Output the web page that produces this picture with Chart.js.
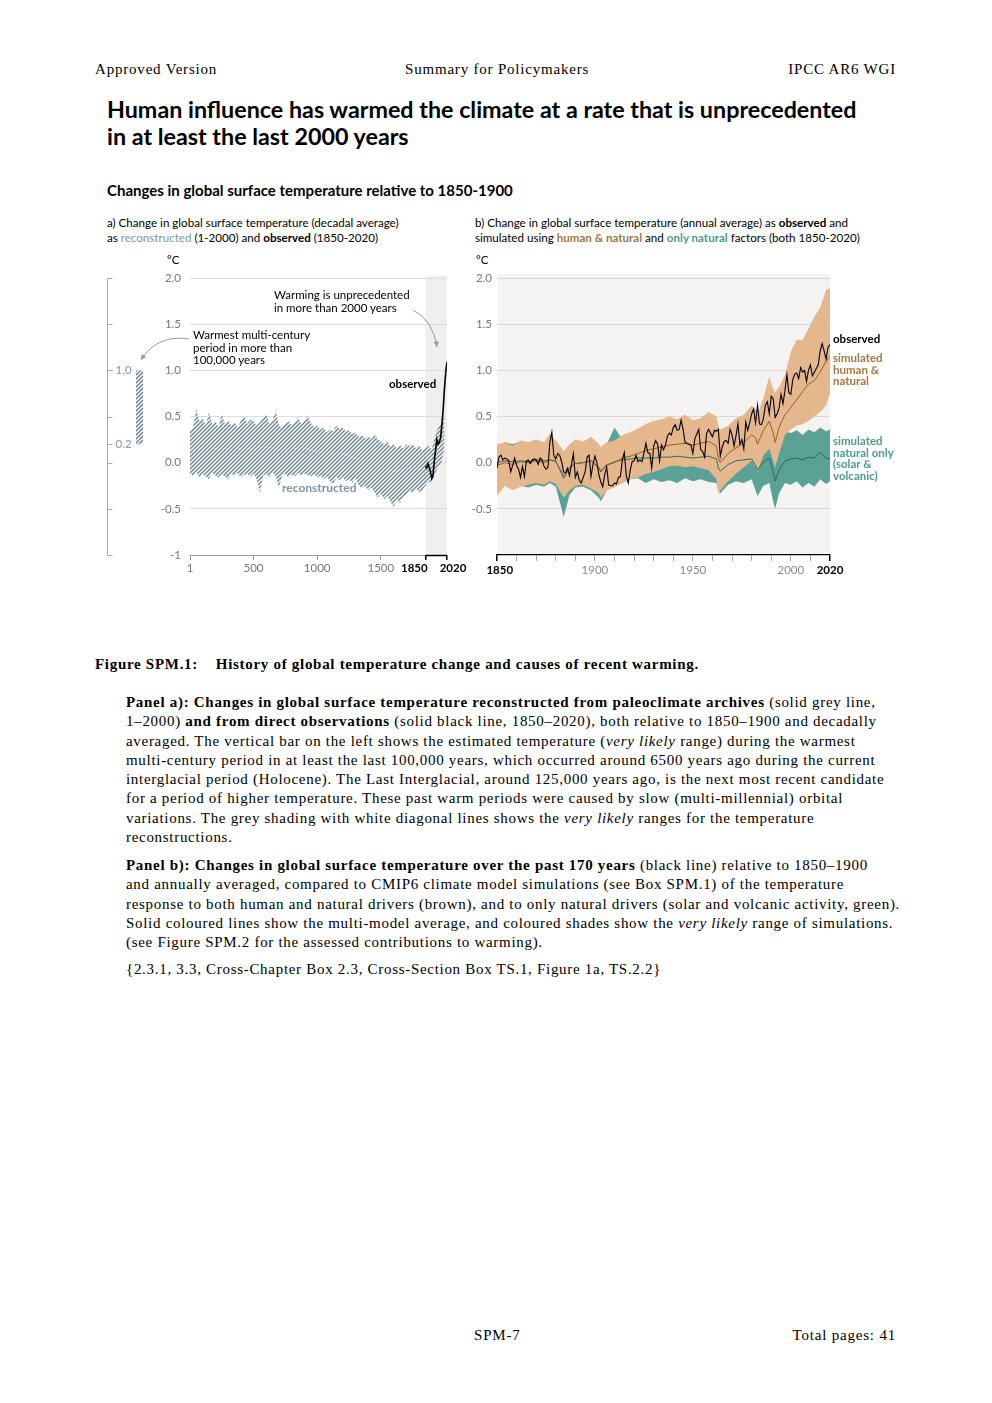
<!DOCTYPE html>
<html>
<head>
<meta charset="utf-8">
<script src="https://cdn.jsdelivr.net/npm/chart.js@4.4.1/dist/chart.umd.min.js"></script>
<style>
  body { margin: 0; background: #fff; }
  #page { position: relative; width: 992px; height: 1403px; overflow: hidden; font-family: "Liberation Serif", serif; color: #000; }
  .abs { position: absolute; white-space: nowrap; }
  .serif { font-family: "Liberation Serif", serif; font-size: 15px; letter-spacing: 0.8px; line-height: 20px; }
  .sans { font-family: Lato, "Open Sans", sans-serif; }
  .small { font-size: 11.6px; line-height: 15px; }
  .cap { font-size: 15px; line-height: 19.3px; letter-spacing: 0.7px; }
  canvas { position: absolute; }
</style>
</head>
<body>
<div id="page">
  <div class="abs serif" style="left:95px;top:59px;">Approved Version</div>
  <div class="abs serif" style="left:405px;top:59px;">Summary for Policymakers</div>
  <div class="abs serif" style="right:96px;top:59px;">IPCC AR6 WGI</div>

  <div class="abs sans" style="left:107px;top:96px;font-size:23.3px;line-height:27px;font-weight:bold;">Human influence has warmed the climate at a rate that is unprecedented<br>in at least the last 2000 years</div>
  <div class="abs sans" style="left:107px;top:180px;font-size:15px;line-height:20px;font-weight:bold;">Changes in global surface temperature relative to 1850-1900</div>

  <div class="abs sans small" style="left:107px;top:215px;">a) Change in global surface temperature (decadal average)<br>as <span style="color:#7f95a2">reconstructed</span> (1-2000) and <b>observed</b> (1850-2020)</div>
  <div class="abs sans small" style="left:475px;top:215px;">b) Change in global surface temperature (annual average) as <b>observed</b> and<br>simulated using <b style="color:#a3773f">human &amp; natural</b> and <b style="color:#4f9a8c">only natural</b> factors (both 1850-2020)</div>

  <canvas id="chartA" width="375" height="335" style="left:95px;top:250px;"></canvas>
  <canvas id="chartB" width="420" height="335" style="left:470px;top:250px;"></canvas>

  <div class="abs sans small" style="left:167px;top:252px;">°C</div>
  <div class="abs sans small" style="left:476px;top:252px;">°C</div>

  <div class="abs sans" style="left:274px;top:288px;font-size:11.5px;line-height:13px;">Warming is unprecedented<br>in more than 2000 years</div>
  <div class="abs sans" style="left:193px;top:329px;font-size:11.5px;line-height:12.5px;">Warmest multi-century<br>period in more than<br>100,000 years</div>
  <div class="abs sans" style="left:389px;top:377px;font-size:11.5px;font-weight:bold;line-height:14px;">observed</div>
  <div class="abs sans" style="left:282px;top:481px;font-size:12px;font-weight:bold;line-height:14px;color:#7f95a2;">reconstructed</div>

  <div class="abs sans" style="left:833px;top:332px;font-size:11.5px;font-weight:bold;line-height:14px;">observed</div>
  <div class="abs sans" style="left:833px;top:352px;font-size:11.5px;font-weight:bold;line-height:11.5px;color:#a3773f;">simulated<br>human &amp;<br>natural</div>
  <div class="abs sans" style="left:833px;top:435px;font-size:11.5px;font-weight:bold;line-height:11.5px;color:#4f9a8c;">simulated<br>natural only<br>(solar &amp;<br>volcanic)</div>

  <div class="abs serif" style="left:95px;top:654px;font-size:15px;letter-spacing:0.7px;"><b>Figure SPM.1:</b>&nbsp;&nbsp;&nbsp;&nbsp;<b>History of global temperature change and causes of recent warming.</b></div>

  <div class="abs cap" style="left:126px;top:693px;"><b>Panel a): Changes in global surface temperature reconstructed from paleoclimate archives</b> (solid grey line,<br>1–2000) <b>and from direct observations</b> (solid black line, 1850–2020), both relative to 1850–1900 and decadally<br>averaged. The vertical bar on the left shows the estimated temperature (<i>very likely</i> range) during the warmest<br>multi-century period in at least the last 100,000 years, which occurred around 6500 years ago during the current<br>interglacial period (Holocene). The Last Interglacial, around 125,000 years ago, is the next most recent candidate<br>for a period of higher temperature. These past warm periods were caused by slow (multi-millennial) orbital<br>variations. The grey shading with white diagonal lines shows the <i>very likely</i> ranges for the temperature<br>reconstructions.</div>

  <div class="abs cap" style="left:126px;top:856px;"><b>Panel b): Changes in global surface temperature over the past 170 years</b> (black line) relative to 1850–1900<br>and annually averaged, compared to CMIP6 climate model simulations (see Box SPM.1) of the temperature<br>response to both human and natural drivers (brown), and to only natural drivers (solar and volcanic activity, green).<br>Solid coloured lines show the multi-model average, and coloured shades show the <i>very likely</i> range of simulations.<br>(see Figure SPM.2 for the assessed contributions to warming).</div>

  <div class="abs cap" style="left:126px;top:960px;">{2.3.1, 3.3, Cross-Chapter Box 2.3, Cross-Section Box TS.1, Figure 1a, TS.2.2}</div>

  <div class="abs serif" style="left:474px;top:1325px;">SPM-7</div>
  <div class="abs serif" style="right:96px;top:1325px;">Total pages: 41</div>
</div>

<script>
// ---------- panel a data ----------
const recYears = [1, 25, 50, 75, 100, 125, 150, 175, 200, 225, 250, 275, 300, 325, 350, 375, 400, 425, 450, 475,
  500, 525, 550, 575, 600, 625, 650, 675, 700, 725, 750, 775, 800, 825, 850, 875, 900, 925, 950, 975,
  1000, 1025, 1050, 1075, 1100, 1125, 1150, 1175, 1200, 1225, 1250, 1275, 1300, 1325, 1350, 1375, 1400, 1425, 1450, 1475,
  1500, 1525, 1550, 1575, 1600, 1625, 1650, 1675, 1700, 1725, 1750, 1775, 1800, 1825, 1850, 1875, 1900, 1925, 1950, 1975, 2000];
const recHigh = [0.35, 0.38, 0.58, 0.45, 0.48, 0.40, 0.55, 0.42, 0.45, 0.38, 0.53, 0.42, 0.46, 0.40, 0.44, 0.38, 0.45, 0.51, 0.42, 0.47,
  0.45, 0.40, 0.44, 0.48, 0.53, 0.42, 0.46, 0.56, 0.40, 0.38, 0.42, 0.45, 0.40, 0.44, 0.49, 0.42, 0.46, 0.51, 0.43, 0.38,
  0.40, 0.36, 0.38, 0.33, 0.36, 0.34, 0.40, 0.37, 0.38, 0.34, 0.35, 0.31, 0.33, 0.28, 0.30, 0.26, 0.29, 0.25, 0.30, 0.26,
  0.23, 0.20, 0.24, 0.17, 0.20, 0.16, 0.19, 0.15, 0.20, 0.18, 0.20, 0.16, 0.19, 0.13, 0.16, 0.18, 0.14, 0.28, 0.38, 0.42, 0.55];
const recLow = [-0.12, -0.14, -0.10, -0.16, -0.12, -0.15, -0.18, -0.11, -0.14, -0.16, -0.12, -0.15, -0.18, -0.12, -0.14, -0.11, -0.16, -0.13, -0.12, -0.15,
  -0.12, -0.18, -0.33, -0.14, -0.12, -0.16, -0.11, -0.15, -0.27, -0.14, -0.12, -0.16, -0.13, -0.15, -0.11, -0.14, -0.12, -0.13, -0.15, -0.12,
  -0.16, -0.14, -0.18, -0.15, -0.20, -0.23, -0.16, -0.19, -0.15, -0.20, -0.18, -0.22, -0.17, -0.24, -0.28, -0.25, -0.30, -0.27, -0.32, -0.38,
  -0.33, -0.40, -0.36, -0.42, -0.48, -0.40, -0.44, -0.37, -0.35, -0.30, -0.33, -0.28, -0.32, -0.30, -0.25, -0.20, -0.22, -0.12, -0.05, 0.00, 0.15];
const recMidYears = [1, 100, 200, 300, 400, 500, 600, 700, 800, 900, 1000, 1100, 1200, 1300, 1400, 1500, 1600, 1700, 1800, 1900, 2000];
const recMid = [0.14, 0.16, 0.15, 0.15, 0.16, 0.15, 0.17, 0.14, 0.15, 0.16, 0.12, 0.09, 0.10, 0.05, 0.02, -0.05, -0.10, -0.06, -0.07, -0.04, 0.35];
const obsDecYears = [1850, 1860, 1870, 1880, 1890, 1900, 1910, 1920, 1930, 1940, 1950, 1960, 1970, 1980, 1990, 2000, 2010, 2020];
const obsDec = [-0.04, -0.06, -0.01, -0.05, -0.10, -0.17, -0.14, 0.02, 0.13, 0.25, 0.20, 0.22, 0.27, 0.42, 0.58, 0.80, 0.98, 1.09];
const holoceneRange = [0.2, 1.0];
const holoceneLabels = [1.0, 0.2];
const aTicksX = [1, 500, 1000, 1500, 1850, 2020];
const yTicks = [2, 1.5, 1, 0.5, 0, -0.5, -1];

// ---------- panel b data ----------
const obsStartYear = 1850;
const obsAnnual = [
  -0.06, 0.06, 0.08, 0.03, 0.05, 0.04, 0.02, -0.10, -0.03, 0.05,
  -0.03, -0.07, -0.16, -0.04, -0.15, 0.02, 0.03, -0.01, 0.03, 0.04,
  0.03, -0.02, 0.05, 0.03, -0.04, -0.07, -0.05, 0.22, 0.33, 0.08,
  0.04, 0.10, 0.08, 0.01, -0.10, -0.11, -0.06, -0.14, -0.02, 0.10,
  -0.16, -0.10, -0.19, -0.22, -0.16, -0.10, 0.06, 0.08, -0.15, -0.02,
  0.07, 0.00, -0.13, -0.21, -0.26, -0.13, -0.05, -0.24, -0.25, -0.25,
  -0.22, -0.23, -0.16, -0.15, 0.03, 0.11, -0.14, -0.22, -0.08, 0.01,
  0.02, 0.08, 0.01, 0.03, 0.01, 0.10, 0.21, 0.11, 0.10, -0.06,
  0.18, 0.24, 0.20, 0.02, 0.19, 0.14, 0.19, 0.29, 0.32, 0.30,
  0.38, 0.41, 0.35, 0.36, 0.46, 0.36, 0.22, 0.21, 0.20, 0.19,
  0.10, 0.26, 0.31, 0.36, 0.14, 0.12, 0.06, 0.32, 0.36, 0.32,
  0.28, 0.35, 0.34, 0.36, 0.07, 0.17, 0.23, 0.24, 0.21, 0.36,
  0.30, 0.18, 0.29, 0.42, 0.20, 0.25, 0.15, 0.44, 0.35, 0.43,
  0.53, 0.58, 0.43, 0.62, 0.42, 0.41, 0.48, 0.62, 0.66, 0.53,
  0.72, 0.69, 0.49, 0.53, 0.59, 0.74, 0.64, 0.78, 0.95, 0.76,
  0.74, 0.90, 0.96, 0.97, 0.91, 1.03, 0.98, 1.00, 0.88, 1.00,
  1.06, 0.94, 0.98, 1.02, 1.06, 1.21, 1.29, 1.21, 1.12, 1.25,
  1.28];
const bandYears = [1850, 1854, 1858, 1862, 1866, 1870, 1874, 1877, 1880, 1883, 1884, 1887, 1890, 1894, 1898, 1902, 1903, 1906, 1910, 1914,
  1918, 1922, 1926, 1930, 1934, 1938, 1942, 1946, 1950, 1954, 1958, 1962, 1963, 1964, 1968, 1972, 1976, 1980, 1982, 1983,
  1986, 1989, 1991, 1992, 1994, 1997, 2000, 2003, 2006, 2009, 2012, 2015, 2018, 2020];
const humHigh = [0.20, 0.22, 0.18, 0.24, 0.22, 0.25, 0.22, 0.31, 0.24, 0.16, 0.12, 0.20, 0.25, 0.23, 0.28, 0.20, 0.17, 0.22, 0.24, 0.30,
  0.33, 0.37, 0.42, 0.45, 0.47, 0.50, 0.47, 0.52, 0.46, 0.48, 0.55, 0.50, 0.40, 0.36, 0.40, 0.48, 0.52, 0.62, 0.58, 0.52,
  0.70, 0.93, 0.80, 0.76, 0.82, 0.95, 1.20, 1.33, 1.33, 1.45, 1.58, 1.68, 1.87, 1.89];
const humLow = [-0.36, -0.25, -0.30, -0.26, -0.24, -0.22, -0.24, -0.20, -0.23, -0.34, -0.38, -0.30, -0.25, -0.24, -0.28, -0.33, -0.38, -0.30, -0.27, -0.22,
  -0.18, -0.16, -0.12, -0.10, -0.07, -0.04, -0.03, -0.05, -0.04, -0.06, -0.08, -0.18, -0.34, -0.30, -0.20, -0.12, -0.05, 0.02, -0.05, -0.10,
  0.08, 0.15, 0.02, -0.05, 0.10, 0.30, 0.36, 0.40, 0.42, 0.45, 0.50, 0.55, 0.62, 0.75];
const humMean = [-0.03, 0.00, -0.02, 0.01, 0.00, 0.02, 0.00, 0.03, 0.01, -0.10, -0.14, -0.05, -0.01, 0.00, 0.02, -0.05, -0.09, -0.02, 0.00, 0.05,
  0.07, 0.10, 0.13, 0.15, 0.17, 0.19, 0.20, 0.21, 0.19, 0.21, 0.23, 0.18, 0.05, 0.00, 0.10, 0.16, 0.22, 0.30, 0.27, 0.20,
  0.35, 0.45, 0.32, 0.22, 0.38, 0.52, 0.60, 0.68, 0.77, 0.85, 0.89, 0.98, 1.10, 1.15];
const natHigh = [0.18, 0.22, 0.20, 0.23, 0.22, 0.24, 0.22, 0.24, 0.22, 0.10, 0.05, 0.15, 0.20, 0.22, 0.22, 0.12, 0.10, 0.20, 0.38, 0.25,
  0.22, 0.24, 0.22, 0.24, 0.22, 0.24, 0.25, 0.22, 0.24, 0.22, 0.25, 0.22, 0.10, 0.08, 0.18, 0.22, 0.24, 0.24, 0.12, 0.08,
  0.20, 0.24, 0.05, -0.02, 0.30, 0.34, 0.32, 0.35, 0.30, 0.36, 0.33, 0.38, 0.34, 0.36];
const natLow = [-0.25, -0.22, -0.27, -0.25, -0.27, -0.24, -0.26, -0.22, -0.26, -0.50, -0.59, -0.35, -0.27, -0.26, -0.30, -0.38, -0.42, -0.30, -0.26, -0.22,
  -0.18, -0.17, -0.22, -0.18, -0.21, -0.19, -0.22, -0.17, -0.20, -0.18, -0.21, -0.22, -0.30, -0.33, -0.24, -0.20, -0.22, -0.18, -0.30, -0.36,
  -0.25, -0.22, -0.42, -0.50, -0.33, -0.22, -0.24, -0.20, -0.27, -0.22, -0.26, -0.18, -0.23, -0.20];
const natMean = [0.00, 0.02, 0.01, 0.02, 0.01, 0.03, 0.02, 0.03, 0.02, -0.12, -0.17, -0.06, -0.01, 0.00, 0.02, -0.06, -0.10, -0.03, 0.01, 0.03,
  0.04, 0.05, 0.05, 0.05, 0.06, 0.06, 0.07, 0.06, 0.05, 0.06, 0.07, 0.04, -0.06, -0.09, -0.02, 0.02, 0.03, 0.04, -0.03, -0.08,
  0.01, 0.05, -0.10, -0.20, -0.08, 0.02, 0.04, 0.05, 0.03, 0.06, 0.05, 0.11, 0.05, 0.04];
const bTicksX = [1850, 1860, 1870, 1880, 1890, 1900, 1910, 1920, 1930, 1940, 1950, 1960, 1970, 1980, 1990, 2000, 2010, 2020];
const bLabelYears = [1850, 1900, 1950, 2000, 2020];
const bBoldYears = [1850, 2020];

Chart.defaults.font.family = 'Lato';
Chart.defaults.font.size = 11.5;
Chart.defaults.color = '#777';

function xy(xs, ys) {
  return xs.map((x, i) => ({ x: x, y: ys[i] }));
}

function isBold(c) {
  return !!(c && c.tick && bBoldYears.includes(c.tick.value));
}

function hatch(ctx) {
  const c = document.createElement('canvas');
  c.width = 4; c.height = 4;
  const g = c.getContext('2d');
  g.fillStyle = '#6f8895';
  g.fillRect(0, 0, 4, 4);
  g.strokeStyle = '#ffffff';
  g.lineWidth = 1.3;
  g.beginPath();
  g.moveTo(0, 4); g.lineTo(4, 0);
  g.moveTo(-1, 1); g.lineTo(1, -1);
  g.moveTo(3, 5); g.lineTo(5, 3);
  g.stroke();
  return ctx.createPattern(c, 'repeat');
}

function fixBox(w, h) {
  return function (scale) {
    if (w !== null) scale.width = w;
    if (h !== null) scale.height = h;
    scale.paddingLeft = 0; scale.paddingRight = 0;
    scale.paddingTop = 0; scale.paddingBottom = 0;
  };
}

function arrow(ctx, x0, y0, cx, cy, x1, y1) {
  ctx.beginPath();
  ctx.moveTo(x0, y0);
  ctx.quadraticCurveTo(cx, cy, x1, y1);
  ctx.stroke();
  const a = Math.atan2(y1 - cy, x1 - cx);
  ctx.beginPath();
  ctx.moveTo(x1, y1);
  ctx.lineTo(x1 - 6 * Math.cos(a - 0.45), y1 - 6 * Math.sin(a - 0.45));
  ctx.lineTo(x1 - 6 * Math.cos(a + 0.45), y1 - 6 * Math.sin(a + 0.45));
  ctx.closePath();
  ctx.fill();
}

// ---------- panel a ----------
const canvasA = document.getElementById('chartA');
const ctxA = canvasA.getContext('2d');
const hatchA = hatch(ctxA);

const panelAPlugin = {
  id: 'panelA',
  beforeDraw(chart) {
    const { ctx, chartArea, scales } = chart;
    const x0 = scales.x.getPixelForValue(1850);
    const x1 = scales.x.getPixelForValue(2020);
    ctx.save();
    ctx.fillStyle = '#f0efed';
    ctx.fillRect(x0, chartArea.top - 2, x1 - x0, chartArea.bottom - chartArea.top + 2);
    ctx.restore();
  },
  afterDraw(chart) {
    const { ctx, chartArea, scales } = chart;
    const y = scales.y, x = scales.x;
    ctx.save();
    // side axis for the Holocene bar
    const axX = 12.5;
    ctx.strokeStyle = '#aaa';
    ctx.lineWidth = 1;
    ctx.beginPath();
    ctx.moveTo(axX, y.getPixelForValue(2));
    ctx.lineTo(axX, y.getPixelForValue(-1));
    yTicks.concat(holoceneRange).forEach(v => {
      const py = Math.round(y.getPixelForValue(v)) + 0.5;
      ctx.moveTo(axX, py);
      ctx.lineTo(axX + 5, py);
    });
    ctx.stroke();
    ctx.fillStyle = '#8197a3';
    ctx.font = '11.5px Lato';
    ctx.textBaseline = 'middle';
    holoceneLabels.forEach(v => ctx.fillText(v.toFixed(1), axX + 8, y.getPixelForValue(v)));
    ctx.fillStyle = hatchA;
    const top = y.getPixelForValue(holoceneRange[1]);
    const bot = y.getPixelForValue(holoceneRange[0]);
    ctx.fillRect(41, top, 7, bot - top);

    // black bracket on the axis for 1850-2020
    ctx.strokeStyle = '#000';
    ctx.lineWidth = 1.5;
    ctx.beginPath();
    ctx.moveTo(x.getPixelForValue(1850), chartArea.bottom + 0.5);
    ctx.lineTo(x.getPixelForValue(2020), chartArea.bottom + 0.5);
    ctx.stroke();

    // x labels
    ctx.textBaseline = 'top';
    ctx.textAlign = 'center';
    aTicksX.forEach(v => {
      const bold = v >= 1850;
      ctx.font = (bold ? 'bold ' : '') + '11.5px Lato';
      ctx.fillStyle = bold ? '#000' : '#777';
      let px = x.getPixelForValue(v);
      if (v === 1850) px -= 11;
      if (v === 2020) px += 6;
      ctx.fillText(String(v), px, chartArea.bottom + 8);
    });

    // annotation arrows
    ctx.strokeStyle = '#999';
    ctx.fillStyle = '#999';
    ctx.lineWidth = 1;
    arrow(ctx, 94, 89, 62, 84, 46, 110);
    arrow(ctx, 318, 60, 338, 70, 342, 97);
    ctx.restore();
  }
};

new Chart(ctxA, {
  type: 'line',
  data: {
    datasets: [
      { data: xy(obsDecYears, obsDec), borderColor: '#000', borderWidth: 1.6, pointRadius: 0, fill: false, order: 0 },
      { data: xy(recMidYears, recMid), borderColor: 'rgba(255,255,255,0.7)', borderWidth: 1, borderDash: [1, 2], pointRadius: 0, fill: false, order: 1 },
      { data: xy(recYears, recHigh), borderWidth: 0, borderColor: 'rgba(0,0,0,0)', backgroundColor: hatchA, pointRadius: 0, fill: '+1', order: 2 },
      { data: xy(recYears, recLow), borderWidth: 0, borderColor: 'rgba(0,0,0,0)', pointRadius: 0, fill: false, order: 3 }
    ]
  },
  options: {
    responsive: false,
    animation: false,
    events: [],
    layout: { padding: { left: 0, top: 28, right: 23, bottom: 0 } },
    plugins: { legend: { display: false }, tooltip: { enabled: false } },
    scales: {
      x: {
        type: 'linear', min: 1, max: 2020,
        afterBuildTicks: s => { s.ticks = aTicksX.map(v => ({ value: v })); },
        afterFit: fixBox(null, 30),
        border: { display: true, color: '#999' },
        grid: {
          drawOnChartArea: false, drawTicks: true, tickLength: 5,
          color: c => (c.tick && c.tick.value >= 1850 ? '#000' : '#999'),
          lineWidth: c => (c.tick && c.tick.value >= 1850 ? 1.5 : 1)
        },
        ticks: { display: false }
      },
      y: {
        min: -1, max: 2,
        afterBuildTicks: s => { s.ticks = yTicks.map(v => ({ value: v })); },
        afterFit: fixBox(95, null),
        border: { display: false },
        grid: { color: c => (c.tick && c.tick.value === -1 ? 'rgba(0,0,0,0)' : '#dcdcdc'), drawTicks: false },
        ticks: { padding: 9, color: '#777', callback: v => (v === -1 ? '-1' : v.toFixed(1)) }
      }
    }
  },
  plugins: [panelAPlugin]
});

// ---------- panel b ----------
const panelBPlugin = {
  id: 'panelB',
  beforeDraw(chart) {
    const { ctx, chartArea } = chart;
    ctx.save();
    ctx.fillStyle = '#f4f3f1';
    ctx.fillRect(chartArea.left, chartArea.top - 4, chartArea.right - chartArea.left, chartArea.bottom - chartArea.top + 4);
    ctx.restore();
  }
};

new Chart(document.getElementById('chartB'), {
  type: 'line',
  data: {
    datasets: [
      { data: obsAnnual.map((v, i) => ({ x: obsStartYear + i, y: v })), borderColor: '#000', borderWidth: 1.1, pointRadius: 0, fill: false, order: 0 },
      { data: xy(bandYears, humMean), borderColor: '#9c5d25', borderWidth: 1, pointRadius: 0, fill: false, order: 1 },
      { data: xy(bandYears, natMean), borderColor: '#2d6a58', borderWidth: 1, pointRadius: 0, fill: false, order: 1 },
      { data: xy(bandYears, humHigh), borderWidth: 0, borderColor: 'rgba(0,0,0,0)', backgroundColor: '#e5b78c', pointRadius: 0, fill: '+1', order: 2 },
      { data: xy(bandYears, humLow), borderWidth: 0, borderColor: 'rgba(0,0,0,0)', pointRadius: 0, fill: false, order: 3 },
      { data: xy(bandYears, natHigh), borderWidth: 0, borderColor: 'rgba(0,0,0,0)', backgroundColor: '#5aa196', pointRadius: 0, fill: '+1', order: 4 },
      { data: xy(bandYears, natLow), borderWidth: 0, borderColor: 'rgba(0,0,0,0)', pointRadius: 0, fill: false, order: 5 }
    ]
  },
  options: {
    responsive: false,
    animation: false,
    events: [],
    layout: { padding: { left: 0, top: 28, right: 60, bottom: 0 } },
    plugins: { legend: { display: false }, tooltip: { enabled: false } },
    scales: {
      x: {
        type: 'linear', min: 1850, max: 2020,
        afterBuildTicks: s => { s.ticks = bTicksX.map(v => ({ value: v })); },
        afterFit: fixBox(null, 30),
        border: { display: true, color: '#000', width: 1.2 },
        grid: {
          drawOnChartArea: false, drawTicks: true, tickLength: 6,
          color: c => (isBold(c) ? '#000' : '#aaa'),
          lineWidth: c => (isBold(c) ? 1.5 : 1)
        },
        ticks: {
          autoSkip: false, maxRotation: 0, padding: 2,
          callback: v => (v === 1850 ? '  1850' : bLabelYears.includes(v) ? String(v) : ''),
          color: c => (isBold(c) ? '#000' : '#888'),
          font: c => ({ family: 'Lato', size: 11.5, weight: isBold(c) ? 'bold' : 'normal' })
        }
      },
      y: {
        min: -1, max: 2,
        afterBuildTicks: s => { s.ticks = yTicks.map(v => ({ value: v })); },
        afterFit: fixBox(27, null),
        border: { display: false },
        grid: { color: c => (c.tick && c.tick.value === -1 ? 'rgba(0,0,0,0)' : '#d9d9d9'), drawTicks: false },
        ticks: { padding: 5, color: '#777', callback: v => (v === -1 ? '' : v.toFixed(1)) }
      }
    }
  },
  plugins: [panelBPlugin]
});
</script>
</body>
</html>
